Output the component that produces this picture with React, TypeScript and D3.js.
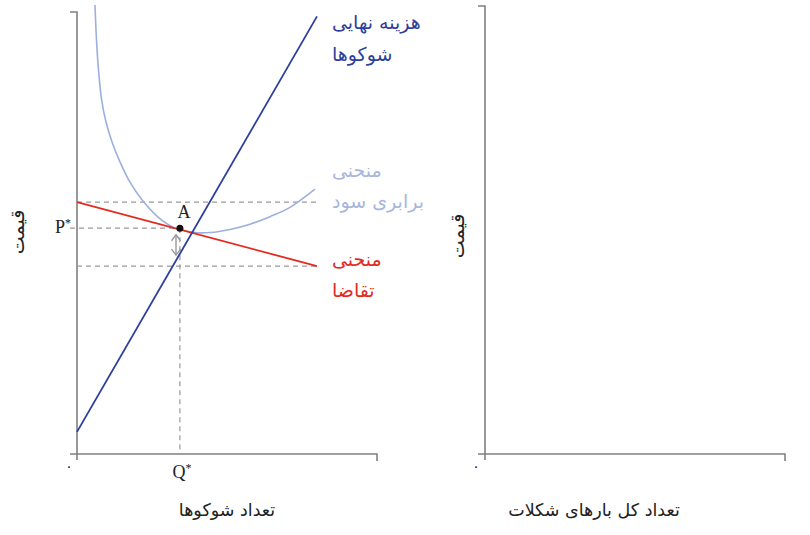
import React from 'react';
import * as d3 from 'd3';

// Marginal cost line (quantity, price)
const mcQ = [0, 80];
const mcP = [5, 99];

// Demand line
const demandQ = [0, 80];
const demandP = [57, 42.5];

// Isoprofit curve
const isoQ = [6, 6.5, 7.17, 8.17, 9.67, 11.67, 14.33, 17.67, 21.67, 27, 32.67, 34.33, 39.33, 44.33, 51, 57.67, 64.33, 71, 79.33];
const isoP = [101.6, 93.7, 86.9, 80.3, 75.1, 70.6, 66.1, 61.5, 57.5, 53.6, 51.1, 50.8, 50.1, 50.1, 50.8, 52, 53.7, 55.8, 59.9];

// Point A and guide levels
const qStar = 34.3;
const pStar = 51.1;
const guideLevels = [57, 42.5];
const guideEnd = 80.5;
const arrowQ = 33;
const arrowP = [49.6, 45];

const labels = {
  mc: ['هزینه نهایی', 'شوکوها'],
  iso: ['منحنی', 'برابری سود'],
  demand: ['منحنی', 'تقاضا'],
  yTitle: 'قیمت',
  xTitleLeft: 'تعداد شوکوها',
  xTitleRight: 'تعداد کل بارهای شکلات',
  zero: '۰',
};

const W = 810;
const H = 535;
const faFont = '"DejaVu Sans", sans-serif';
const serif = '"Liberation Serif", "DejaVu Serif", serif';

const axisColor = '#808080';
const dashColor = '#9a9a9a';
const mcColor = '#2d3f9c';
const isoColor = '#9cb0df';
const isoText = '#a9b6dc';
const redColor = '#e42a1f';

const App: React.FC = () => {
  // left panel scales
  const x = d3.scaleLinear().domain([0, 100]).range([77, 377]);
  const y = d3.scaleLinear().domain([0, 100]).range([454, 12]);
  // right panel scales
  const x2 = d3.scaleLinear().domain([0, 100]).range([485, 785]);
  const y2 = d3.scaleLinear().domain([0, 100]).range([454, 6]);

  const line = d3.line<[number, number]>().x(d => x(d[0])).y(d => y(d[1]));
  const curve = d3.line<[number, number]>()
    .x(d => x(d[0]))
    .y(d => y(d[1]))
    .curve(d3.curveCatmullRom.alpha(0.5));

  const mcPts = mcQ.map((q, i) => [q, mcP[i]] as [number, number]);
  const demPts = demandQ.map((q, i) => [q, demandP[i]] as [number, number]);
  const isoPts = isoQ.map((q, i) => [q, isoP[i]] as [number, number]);

  const axisPath = (sx: d3.ScaleLinear<number, number>, sy: d3.ScaleLinear<number, number>) => {
    const x0 = sx(0), x1 = sx(100), y0 = sy(0), y1 = sy(100);
    return `M${x0 - 7},${y0}H${x1}V${y0 + 7}M${x0 - 7},${y1}H${x0}V${y0 + 6}`;
  };

  const ax = x(arrowQ);
  const ay0 = y(arrowP[0]);
  const ay1 = y(arrowP[1]);

  return (
    <svg width={W} height={H} style={{ position: 'absolute', left: 0, top: 0, background: '#fff' }}>
      {/* axes */}
      <path d={axisPath(x, y)} fill="none" stroke={axisColor} strokeWidth={1.6} />
      <path d={axisPath(x2, y2)} fill="none" stroke={axisColor} strokeWidth={1.6} />

      {/* dashed guides */}
      {guideLevels.map((g, i) => (
        <line key={i} x1={x(0)} x2={x(guideEnd)} y1={y(g)} y2={y(g)}
          stroke={dashColor} strokeWidth={1.2} strokeDasharray="5,4" />
      ))}
      <line x1={x(0) - 7} x2={x(qStar)} y1={y(pStar)} y2={y(pStar)}
        stroke={dashColor} strokeWidth={1.2} strokeDasharray="5,4" />
      <line x1={x(qStar)} x2={x(qStar)} y1={y(pStar)} y2={y(0)}
        stroke={dashColor} strokeWidth={1.2} strokeDasharray="5,4" />

      {/* curves */}
      <path d={curve(isoPts) || ''} fill="none" stroke={isoColor} strokeWidth={1.6} />
      <path d={line(demPts) || ''} fill="none" stroke={redColor} strokeWidth={1.8} />
      <path d={line(mcPts) || ''} fill="none" stroke={mcColor} strokeWidth={1.8} />

      {/* double arrow */}
      <g stroke={dashColor} strokeWidth={1.4} fill="none">
        <line x1={ax} x2={ax} y1={ay0} y2={ay1} />
        <path d={`M${ax - 4.5},${ay0 + 6}L${ax},${ay0}L${ax + 4.5},${ay0 + 6}`} />
        <path d={`M${ax - 4.5},${ay1 - 6}L${ax},${ay1}L${ax + 4.5},${ay1 - 6}`} />
      </g>

      {/* point A */}
      <circle cx={x(qStar)} cy={y(pStar)} r={3.5} fill="#111" />
      <text x={x(qStar) + 4} y={y(pStar) - 10} fontFamily={serif} fontSize={18} textAnchor="middle" fill="#222">A</text>

      {/* star labels */}
      <text x={x(qStar) + 2} y={478} fontFamily={serif} fontSize={18} textAnchor="middle" fill="#222">
        Q<tspan fontSize={12} dy={-6}>*</tspan>
      </text>
      <text x={x(0) - 6} y={y(pStar) + 5} fontFamily={serif} fontSize={18} textAnchor="end" fill="#222">
        P<tspan fontSize={12} dy={-6}>*</tspan>
      </text>

      {/* zero labels */}
      <text x={x(0) - 8} y={471} fontFamily={faFont} fontSize={14} textAnchor="middle" fill="#222">{labels.zero}</text>
      <text x={x2(0) - 9} y={471} fontFamily={faFont} fontSize={14} textAnchor="middle" fill="#222">{labels.zero}</text>

      {/* curve labels */}
      <g fontFamily={faFont} fontSize={19}>
        {labels.mc.map((t, i) => (
          <text key={'mc' + i} x={332} y={29 + i * 32} fill={mcColor}>{t}</text>
        ))}
        {labels.iso.map((t, i) => (
          <text key={'iso' + i} x={332} y={177 + i * 31} fill={isoText}>{t}</text>
        ))}
        {labels.demand.map((t, i) => (
          <text key={'dm' + i} x={332} y={266 + i * 31} fill={redColor}>{t}</text>
        ))}
      </g>

      {/* axis titles */}
      <text transform="translate(24,232) rotate(-90)" fontFamily={faFont} fontSize={19}
        textAnchor="middle" fill="#222">{labels.yTitle}</text>
      <text transform="translate(464,236) rotate(-90)" fontFamily={faFont} fontSize={19}
        textAnchor="middle" fill="#222">{labels.yTitle}</text>
      <text x={227} y={516} fontFamily={faFont} fontSize={17.5} textAnchor="middle" fill="#222">{labels.xTitleLeft}</text>
      <text x={594} y={516} fontFamily={faFont} fontSize={17.5} textAnchor="middle" fill="#222">{labels.xTitleRight}</text>
    </svg>
  );
};

export default App;
